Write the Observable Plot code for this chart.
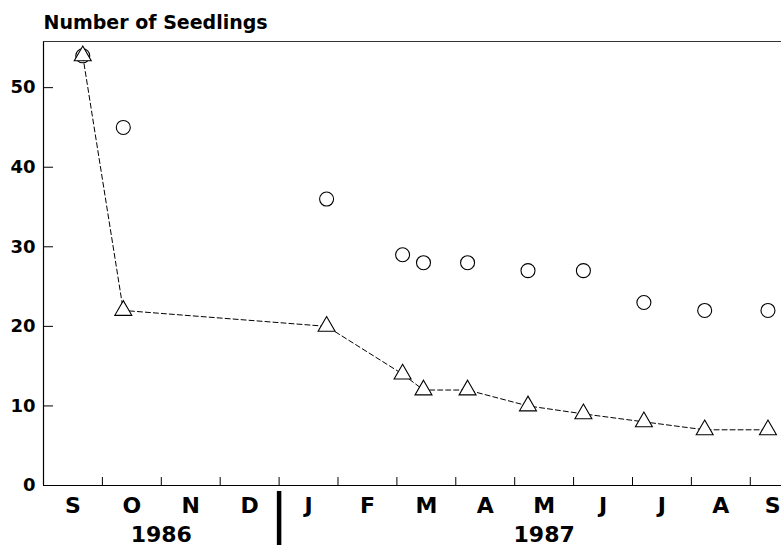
<!DOCTYPE html>
<html><head><meta charset="utf-8">
<script src="https://cdn.jsdelivr.net/npm/d3@7"></script>
<script src="https://cdn.jsdelivr.net/npm/@observablehq/plot@0.6"></script>
<style>body{margin:0;background:#fff;overflow:hidden} svg{display:block}</style>
</head><body><div id="chart"></div>
<script>
// Sampling dates
const sampleDates = ["1986-09-21","1986-10-12","1987-01-26","1987-03-04","1987-03-15","1987-04-07","1987-05-08","1987-06-06","1987-07-07","1987-08-08","1987-09-10"];
// Circles series
const seriesCircle = [54, 45, 36, 29, 28, 28, 27, 27, 23, 22, 22];
// Triangles series (dashed line)
const seriesTriangle = [54, 22, 20, 14, 12, 12, 10, 9, 8, 7, 7];
// Month tick labels, starting at September 1986
const monthLabels = ["S","O","N","D","J","F","M","A","M","J","J","A","S"];
// Years and the month index at which each starts (0 = Sep 1986)
const yearLabels = ["1986","1987"];
const yearStarts = [0, 4];
const yTicks = [0, 10, 20, 30, 40, 50];
const titleText = "Number of Seedlings";

const parse = d3.utcParse("%Y-%m-%d");
function monthPos(s) {
  const d = parse(s);
  const y = d.getUTCFullYear(), m = d.getUTCMonth(), day = d.getUTCDate();
  const dim = new Date(Date.UTC(y, m + 1, 0)).getUTCDate();
  return (y - 1986) * 12 + (m - 8) + (day - 1) / dim;
}
const data = sampleDates.map((s, i) => ({x: monthPos(s), a: seriesCircle[i], b: seriesTriangle[i]}));
const xMax = 12.53, yMax = 55.8;
const yearSpans = yearLabels.map((t, i) => ({t, c: (yearStarts[i] + (i + 1 < yearStarts.length ? yearStarts[i + 1] : monthLabels.length)) / 2}));
const months = monthLabels.map((t, i) => ({t, c: i + 0.5}));
const inside = months.filter(d => d.c < xMax - 0.1);
const edge = months.filter(d => d.c >= xMax - 0.1);

const chart = Plot.plot({
  width: 781, height: 545,
  marginTop: 41, marginBottom: 60, marginLeft: 43, marginRight: 0,
  x: {domain: [0, xMax], axis: null},
  y: {domain: [0, yMax], axis: null},
  style: {fontFamily: "DejaVu Sans", fontWeight: "bold", background: "white", color: "black"},
  marks: [
    Plot.ruleX([0], {stroke: "black", strokeWidth: 1.2}),
    Plot.ruleY([0], {stroke: "black", strokeWidth: 1.2}),
    Plot.ruleY([yMax], {stroke: "#333", strokeWidth: 1}),
    Plot.ruleX(d3.range(1, monthLabels.length), {y1: 0, y2: 1, stroke: "black"}),
    Plot.ruleY(yTicks.filter(d => d > 0), {x1: 0, x2: 0.17, stroke: "black"}),
    Plot.text(yTicks, {x: 0, y: d => d, text: d => String(d), textAnchor: "end", dx: -8, fontSize: 18, fill: "black"}),
    Plot.text(inside, {x: "c", text: "t", frameAnchor: "bottom", lineAnchor: "bottom", dy: 27, fontSize: 22, fill: "black"}),
    Plot.text(edge, {x: () => xMax, text: "t", textAnchor: "end", dx: -1, frameAnchor: "bottom", lineAnchor: "bottom", dy: 27, fontSize: 22, fill: "black"}),
    Plot.text(yearSpans, {x: "c", text: "t", frameAnchor: "bottom", lineAnchor: "bottom", dy: 56, fontSize: 22, fill: "black"}),
    Plot.ruleX([yearStarts[1]], {y1: -0.75, y2: -8, strokeWidth: 4.5, stroke: "black"}),
    Plot.text([titleText], {text: d => d, frameAnchor: "top-left", textAnchor: "start", lineAnchor: "bottom", dy: -13, fontSize: 19, fill: "black"}),
    Plot.line(data, {x: "x", y: "b", stroke: "black", strokeWidth: 1, strokeDasharray: "5,3"}),
    Plot.dot(data, {x: "x", y: "a", r: 7, stroke: "black", fill: "none", strokeWidth: 1.1}),
    Plot.dot(data, {x: "x", y: "b", r: 6.3, symbol: "triangle", stroke: "black", fill: "white", strokeWidth: 1.1})
  ]
});
document.getElementById("chart").appendChild(chart);
</script>
</body></html>
